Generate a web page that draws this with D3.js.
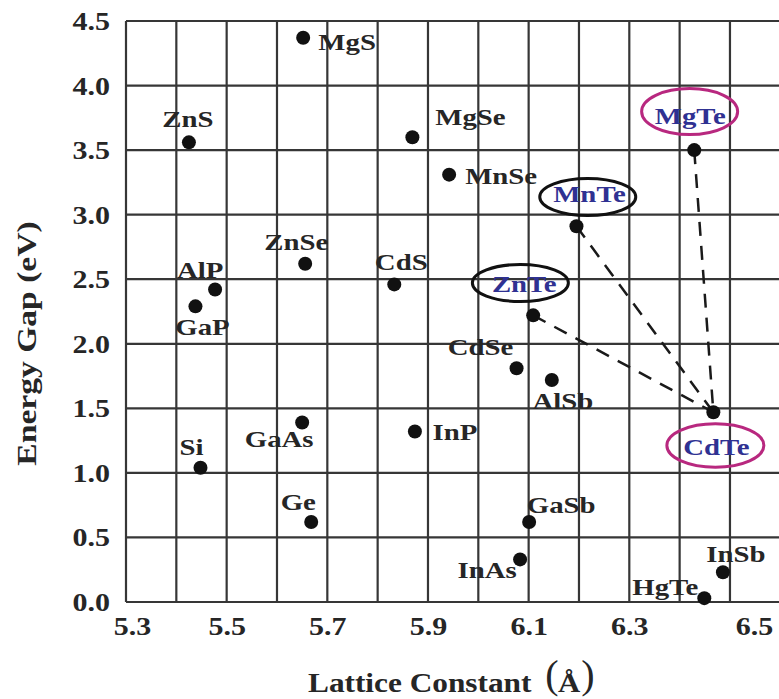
<!DOCTYPE html>
<html>
<head>
<meta charset="utf-8">
<script src="https://cdn.jsdelivr.net/npm/d3@7"></script>
<style>
  html, body { margin: 0; padding: 0; background: #fff; }
  svg { display: block; }
</style>
</head>
<body>
<svg id="chart" width="779" height="699"></svg>
<script>
// Semiconductor compounds: lattice constant (Å) vs. band gap energy (eV)
const compounds = ["MgS", "ZnS", "MgSe", "MnSe", "MgTe", "MnTe", "ZnSe", "AlP", "GaP", "CdS", "ZnTe",
                   "CdSe", "AlSb", "CdTe", "GaAs", "InP", "Si", "Ge", "GaSb", "InAs", "InSb", "HgTe"];
const latticeConstant = [5.652, 5.425, 5.869, 5.942, 6.429, 6.195, 5.656, 5.477, 5.438, 5.833, 6.109,
                         6.076, 6.146, 6.467, 5.650, 5.874, 5.448, 5.668, 6.101, 6.083, 6.486, 6.449];
const energyGap = [4.37, 3.56, 3.60, 3.31, 3.50, 2.91, 2.62, 2.42, 2.29, 2.46, 2.22,
                   1.81, 1.72, 1.47, 1.39, 1.32, 1.04, 0.62, 0.62, 0.33, 0.23, 0.03];

const xTicks = [5.3, 5.5, 5.7, 5.9, 6.1, 6.3, 6.5];
const yTicks = [0.0, 0.5, 1.0, 1.5, 2.0, 2.5, 3.0, 3.5, 4.0, 4.5];
const xGrid = [5.3, 5.4, 5.5, 5.6, 5.7, 5.8, 5.9, 6.0, 6.1, 6.2, 6.3, 6.4, 6.5];

// Tellurides joined to CdTe as alloy partners
const highlighted = ["MgTe", "MnTe", "ZnTe", "CdTe"];
const tieLines = [["MgTe", "CdTe"], ["MnTe", "CdTe"], ["ZnTe", "CdTe"]];

// ---- layout (pixel offsets of each name from its dot: [dx, dy of baseline]) ----
const labelOffset = {
  MgS: [44, 12], ZnS: [-1, -15], MgSe: [58, -12], MnSe: [52, 9], MgTe: [-4, -26],
  MnTe: [13, -24], ZnSe: [-9, -14], AlP: [-15, -12], GaP: [7, 29], CdS: [7, -14],
  ZnTe: [-9, -23], CdSe: [-36, -13], AlSb: [11, 29], CdTe: [3, 43], GaAs: [-23, 24],
  InP: [40, 8], Si: [-9, -13], Ge: [-13, -12], GaSb: [32, -9], InAs: [-33, 19],
  InSb: [13, -10], HgTe: [-39, -3]
};
// ring around highlighted names: [dx, dy, rx, ry, colour]
const ringStyle = {
  MgTe: [-4.6, -38.5, 48, 23, "#b8287f"],
  MnTe: [11.3, -29.3, 48, 18.5, "#111"],
  ZnTe: [-12.8, -32.4, 48, 18.5, "#111"],
  CdTe: [2, 33.3, 48.5, 21.7, "#b8287f"]
};
const xTickShift = { 5.3: 6, 6.5: 24 };

const svg = d3.select("#chart");
const W = 779;
const x = d3.scaleLinear().domain([5.3, 6.6]).range([126, 780.3]);
const y = d3.scaleLinear().domain([0, 4.5]).range([602, 21]);

const serif = "'Liberation Serif', 'Times New Roman', Times, serif";
const ink = "#262626";
const gridColor = "#363636";
const blue = "#2f3192";
const stretch = 1.2;

svg.append("rect").attr("width", W).attr("height", 699).attr("fill", "#fff");

// grid
const grid = svg.append("g");
grid.selectAll("line.v").data(xGrid).join("line")
  .attr("x1", d => x(d)).attr("x2", d => x(d))
  .attr("y1", y(0)).attr("y2", y(4.5))
  .attr("stroke", gridColor).attr("stroke-width", 2.2);
grid.selectAll("line.h").data(yTicks).join("line")
  .attr("x1", x(5.3)).attr("x2", W)
  .attr("y1", d => y(d)).attr("y2", d => y(d))
  .attr("stroke", gridColor).attr("stroke-width", 2.2);

// axes (labels only)
const yAxis = svg.append("g").attr("transform", `translate(${x(5.3)},0)`)
  .call(d3.axisLeft(y).tickValues(yTicks).tickFormat(d3.format(".1f")).tickSize(0));
const xAxis = svg.append("g").attr("transform", `translate(0,${y(0)})`)
  .call(d3.axisBottom(x).tickValues(xTicks).tickFormat(d3.format(".1f")).tickSize(0));
[yAxis, xAxis].forEach(a => a.select(".domain").remove());

yAxis.selectAll("text")
  .attr("x", 0).attr("dy", "0.34em")
  .attr("transform", `translate(-16,0) scale(${stretch},1)`)
  .attr("text-anchor", "end")
  .attr("font-family", serif).attr("font-weight", "bold").attr("font-size", 25).attr("fill", ink);
xAxis.selectAll("text")
  .attr("y", 33).attr("dy", 0)
  .attr("transform", d => `translate(${xTickShift[d] || 0},0) scale(${stretch},1)`)
  .attr("text-anchor", "middle")
  .attr("font-family", serif).attr("font-weight", "bold").attr("font-size", 25).attr("fill", ink);

// axis titles
svg.append("text")
  .attr("transform", `translate(36,343.5) rotate(-90) scale(1.2,1)`)
  .attr("text-anchor", "middle")
  .attr("font-family", serif).attr("font-weight", "bold").attr("font-size", 28).attr("fill", ink)
  .text("Energy Gap (eV)");

const xt = svg.append("g").attr("fill", ink).attr("font-family", serif);
xt.append("text")
  .attr("transform", `translate(308,692) scale(1.16,1)`)
  .attr("font-weight", "bold").attr("font-size", 27)
  .text("Lattice Constant");
xt.append("text").attr("x", 552).attr("y", 688).attr("text-anchor", "middle")
  .attr("font-size", 40).text("(");
xt.append("text").attr("transform", `translate(569,692) scale(1.1,1)`).attr("text-anchor", "middle")
  .attr("font-weight", "bold").attr("font-size", 28).text("Å");
xt.append("text").attr("x", 588).attr("y", 688).attr("text-anchor", "middle")
  .attr("font-size", 40).text(")");

// points
const pts = compounds.map((name, i) => ({ name, a: latticeConstant[i], e: energyGap[i] }));
const byName = Object.fromEntries(pts.map(p => [p.name, p]));

// dashed tie lines to CdTe
svg.append("g").selectAll("line").data(tieLines).join("line")
  .attr("x1", d => x(byName[d[0]].a)).attr("y1", d => y(byName[d[0]].e))
  .attr("x2", d => x(byName[d[1]].a)).attr("y2", d => y(byName[d[1]].e))
  .attr("stroke", "#1a1a1a").attr("stroke-width", 2.5).attr("stroke-dasharray", "14,10");

// rings around highlighted names
svg.append("g").selectAll("ellipse").data(pts.filter(p => highlighted.includes(p.name))).join("ellipse")
  .attr("cx", p => x(p.a) + ringStyle[p.name][0])
  .attr("cy", p => y(p.e) + ringStyle[p.name][1])
  .attr("rx", p => ringStyle[p.name][2])
  .attr("ry", p => ringStyle[p.name][3])
  .attr("fill", "none")
  .attr("stroke", p => ringStyle[p.name][4])
  .attr("stroke-width", 3);

// names
svg.append("g").selectAll("text").data(pts).join("text")
  .attr("transform", p => `translate(${x(p.a) + labelOffset[p.name][0]},${y(p.e) + labelOffset[p.name][1]}) scale(${stretch},1)`)
  .attr("text-anchor", "middle")
  .attr("font-family", serif).attr("font-weight", "bold").attr("font-size", 24)
  .attr("fill", p => highlighted.includes(p.name) ? blue : ink)
  .text(p => p.name);

// dots
svg.append("g").selectAll("circle").data(pts).join("circle")
  .attr("cx", p => x(p.a)).attr("cy", p => y(p.e)).attr("r", 7)
  .attr("fill", "#111");
</script>
</body>
</html>
